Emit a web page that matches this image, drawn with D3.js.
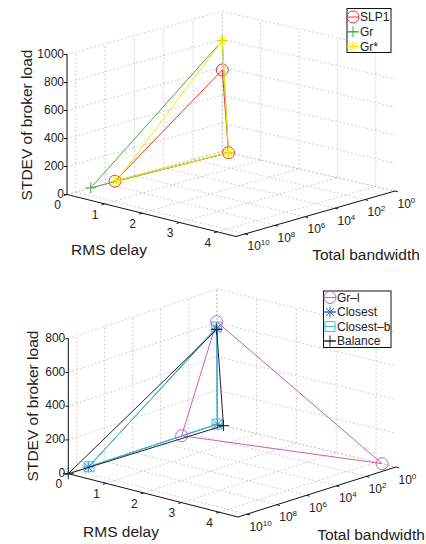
<!DOCTYPE html>
<html>
<head>
<meta charset="utf-8">
<title>broker load 3d</title>
<script src="https://d3js.org/d3.v7.min.js"></script>
<style>
body { margin: 0; background: #fff; }
svg text { font-family: 'Liberation Sans', Arial, Helvetica, sans-serif; fill: #222; }
.grid { stroke: #c4c4c4; stroke-width: 0.8; stroke-dasharray: 2,2; fill: none; }
.axis { stroke: #111; stroke-width: 1; fill: none; }
</style>
</head>
<body>
<script>
// top panel data: one triangle per algorithm (delay, bandwidth, stdev)
var topNames = ['SLP1', 'Gr', 'Gr*'];
var topDelay = [0.16, 0.16, 0.16];
var topBandwidth = [2.1e7, 9.5e8, 1.6e7];
var topStdev = [581, 790, 790];
var topColors = ['#f03030', '#3fae3a', '#f7ea00'];
var topMarkers = ['circle', 'plus', 'star'];

// bottom panel data
var botNames = ['Gr\u2013l', 'Closest', 'Closest\u2013b', 'Balance'];
var botDelay = [4.15, 0.02, 0.01, 0.17];
var botBandwidth = [3.2e2, 1.5e9, 1.3e9, 4.0e10];
var botStdev = [606, 567, 575, 560];
var botColors = ['#cc5fb7', '#2a6fc0', '#3ec0e0', '#222222'];
var botMarkers = ['circle', 'star', 'square', 'plus'];

// ticks
var delayTicks = [0, 1, 2, 3, 4];
var bwTicks = [1e0, 1e2, 1e4, 1e6, 1e8, 1e10];
var bwExponents = ['0', '2', '4', '6', '8', '10'];
var topStdevTicks = [0, 200, 400, 600, 800, 1000];
var botStdevTicks = [0, 200, 400, 600, 800];

var delayMax = 4.5;
var bwMax = Math.pow(10, 10.6), bwMin = 1;

var svg = d3.select('body').append('svg')
    .attr('width', 426)
    .attr('height', 544);

// floor corners: O=(0,bwMax) X=(dmax,bwMax) E=(dmax,bwMin) B=(0,bwMin)
var panels = [
    {
        O: [67, 194.5], X: [236, 236.5], E: [395, 191], B: [222.3, 151.3],
        zMax: 1000, zPx: 140, zTicks: topStdevTicks,
        names: topNames, delay: topDelay, bw: topBandwidth, stdev: topStdev,
        colors: topColors, markers: topMarkers,
        yTitle: [31.5, 125], xTitle: [109, 255], bTitle: [366, 260],
        legend: { x: 347, y: 8.5, w: 44, h: 44, row0: 17, step: 14.8, mx: 353, tx: 360 }
    },
    {
        O: [68.3, 473.7], X: [238, 517], E: [396, 467], B: [216.7, 424],
        zMax: 800, zPx: 135, zTicks: botStdevTicks,
        names: botNames, delay: botDelay, bw: botBandwidth, stdev: botStdev,
        colors: botColors, markers: botMarkers,
        yTitle: [38, 406], xTitle: [121, 537], bTitle: [371, 540],
        legend: { x: 323.5, y: 291, w: 67.5, h: 56.5, row0: 297.5, step: 14.5, mx: 330, tx: 337 }
    }
];

function makeProj(p) {
    var u = d3.scaleLinear().domain([0, delayMax]).range([0, 1]);
    var v = d3.scaleLog().domain([bwMax, bwMin]).range([0, 1]);
    var h = d3.scaleLinear().domain([0, p.zMax]).range([0, p.zPx]);
    return function(x, bw, z) {
        var a = u(x), b = v(bw);
        var px = p.O[0] * (1 - a) * (1 - b) + p.X[0] * a * (1 - b) + p.E[0] * a * b + p.B[0] * (1 - a) * b;
        var py = p.O[1] * (1 - a) * (1 - b) + p.X[1] * a * (1 - b) + p.E[1] * a * b + p.B[1] * (1 - a) * b;
        return [px, py - h(z)];
    };
}

function seg(g, cls, a, b) {
    g.append('line').attr('class', cls)
        .attr('x1', a[0]).attr('y1', a[1])
        .attr('x2', b[0]).attr('y2', b[1]);
}

function marker(g, type, x, y, color) {
    var r = 5.5;
    if (type == 'circle') {
        g.append('circle').attr('cx', x).attr('cy', y).attr('r', 6)
            .attr('fill', 'none').attr('stroke', color).attr('stroke-width', 1);
        return;
    }
    var d;
    if (type == 'plus') {
        d = 'M' + (x - r) + ',' + y + 'H' + (x + r) + 'M' + x + ',' + (y - r) + 'V' + (y + r);
    } else if (type == 'star') {
        var q = 4;
        d = 'M' + (x - r) + ',' + y + 'H' + (x + r) + 'M' + x + ',' + (y - r) + 'V' + (y + r) +
            'M' + (x - q) + ',' + (y - q) + 'L' + (x + q) + ',' + (y + q) +
            'M' + (x - q) + ',' + (y + q) + 'L' + (x + q) + ',' + (y - q);
    } else {
        d = 'M' + (x - 5) + ',' + (y - 5) + 'h10v10h-10z';
    }
    g.append('path').attr('d', d).attr('fill', 'none')
        .attr('stroke', color).attr('stroke-width', 1);
}

panels.forEach(function(p) {
    var proj = makeProj(p);
    var g = svg.append('g');

    // grid on floor and the two back walls
    delayTicks.forEach(function(t) {
        seg(g, 'grid', proj(t, bwMax, 0), proj(t, bwMin, 0));
        seg(g, 'grid', proj(t, bwMin, 0), proj(t, bwMin, p.zMax));
    });
    bwTicks.forEach(function(t) {
        seg(g, 'grid', proj(0, t, 0), proj(delayMax, t, 0));
        seg(g, 'grid', proj(0, t, 0), proj(0, t, p.zMax));
    });
    p.zTicks.forEach(function(t) {
        seg(g, 'grid', proj(0, bwMax, t), proj(0, bwMin, t));
        seg(g, 'grid', proj(0, bwMin, t), proj(delayMax, bwMin, t));
    });

    // axis lines
    seg(g, 'axis', proj(0, bwMax, 0), proj(delayMax, bwMax, 0));
    seg(g, 'axis', proj(delayMax, bwMax, 0), proj(delayMax, bwMin, 0));
    seg(g, 'axis', proj(0, bwMax, 0), proj(0, bwMax, p.zMax));

    // delay ticks + labels
    delayTicks.forEach(function(t) {
        var a = proj(t, bwMax, 0);
        seg(g, 'axis', a, [a[0] - 3, a[1] + 0.9]);
        g.append('text').attr('x', a[0] - 9.5).attr('y', a[1] + 10.5)
            .attr('dy', '0.35em').attr('text-anchor', 'middle')
            .style('font-size', '12px').text(t);
    });

    // bandwidth ticks + labels
    bwTicks.forEach(function(t, i) {
        var a = proj(delayMax, t, 0);
        seg(g, 'axis', a, [a[0] + 3, a[1] + 0.8]);
        var txt = g.append('text').attr('x', a[0] + 2.5).attr('y', a[1] + 16.5)
            .style('font-size', '12px');
        txt.append('tspan').text('10');
        txt.append('tspan').attr('dy', -5).style('font-size', '8px').text(bwExponents[i]);
    });

    // stdev ticks + labels
    p.zTicks.forEach(function(t) {
        var a = proj(0, bwMax, t);
        seg(g, 'axis', a, [a[0] - 3, a[1]]);
        g.append('text').attr('x', a[0] - 3).attr('y', a[1] - 1)
            .attr('dy', '0.35em').attr('text-anchor', 'end')
            .style('font-size', '12px').text(t);
    });

    // axis titles
    g.append('text')
        .attr('transform', 'translate(' + p.yTitle[0] + ',' + p.yTitle[1] + ') rotate(-90)')
        .attr('text-anchor', 'middle').style('font-size', '15.5px')
        .text('STDEV of broker load');
    g.append('text').attr('x', p.xTitle[0]).attr('y', p.xTitle[1])
        .attr('text-anchor', 'middle').style('font-size', '15.5px').text('RMS delay');
    g.append('text').attr('x', p.bTitle[0]).attr('y', p.bTitle[1])
        .attr('text-anchor', 'middle').style('font-size', '15.5px').text('Total bandwidth');

    // triangles
    p.names.forEach(function(name, i) {
        var pts = [
            proj(0, p.bw[i], 0),
            proj(0, bwMin, p.stdev[i]),
            proj(p.delay[i], bwMin, 0)
        ];
        g.append('path')
            .attr('d', d3.line()(pts) + 'Z')
            .attr('fill', 'none')
            .attr('stroke', p.colors[i])
            .attr('stroke-width', 1);
        pts.forEach(function(q) {
            marker(g, p.markers[i], q[0], q[1], p.colors[i]);
        });
    });

    // legend
    var L = p.legend;
    var lg = g.append('g');
    lg.append('rect').attr('x', L.x).attr('y', L.y)
        .attr('width', L.w).attr('height', L.h)
        .attr('fill', '#fff').attr('stroke', '#111').attr('stroke-width', 1);
    p.names.forEach(function(name, i) {
        var y = L.row0 + i * L.step;
        lg.append('line').attr('x1', L.mx - 6).attr('x2', L.mx + 6)
            .attr('y1', y).attr('y2', y)
            .attr('stroke', p.colors[i]).attr('stroke-width', 1);
        marker(lg, p.markers[i], L.mx, y, p.colors[i]);
        lg.append('text').attr('x', L.tx).attr('y', y)
            .attr('dy', '0.35em').style('font-size', '12px').text(name);
    });
});
</script>
</body>
</html>
